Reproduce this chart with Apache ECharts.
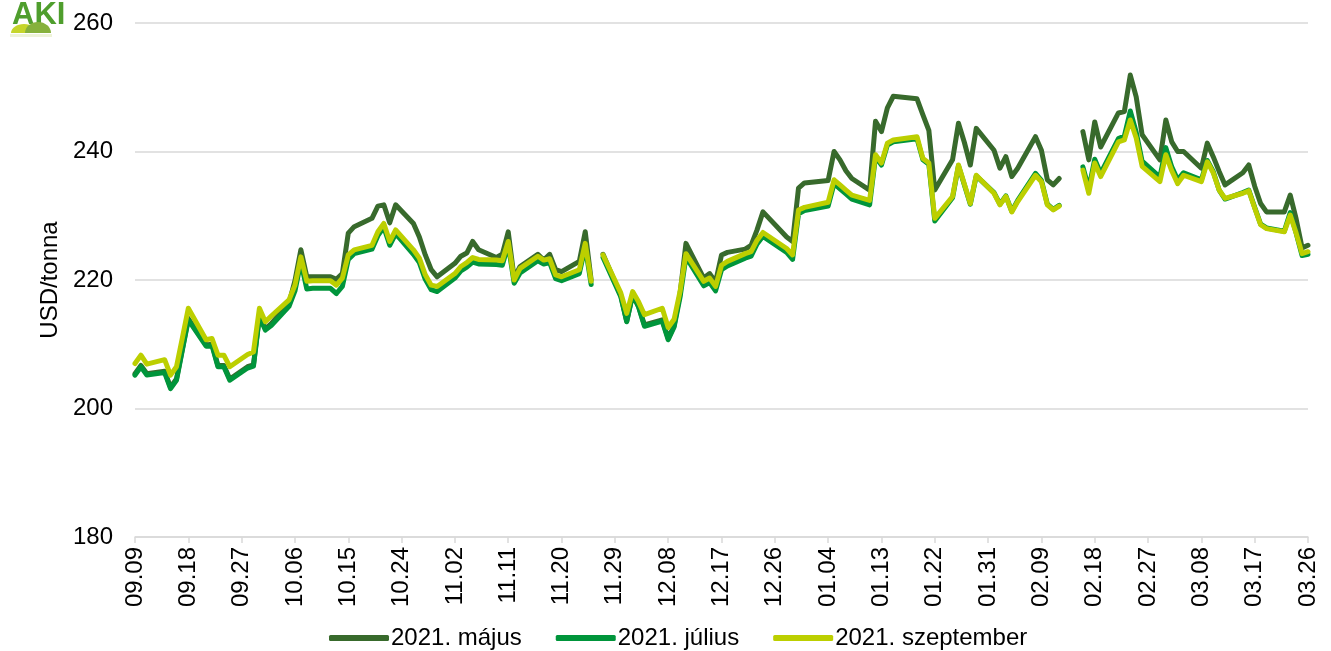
<!DOCTYPE html>
<html>
<head>
<meta charset="utf-8">
<script src="https://cdn.jsdelivr.net/npm/echarts@6/dist/echarts.min.js"></script>
<style>
html,body{margin:0;padding:0;background:#fff;}
#chart{width:1331px;height:651px;}
</style>
</head>
<body>
<div id="chart"></div>
<script>
// ---- data ----
const tradeDates = ['09.09','09.10','09.11','09.14','09.15','09.16','09.17','09.18','09.21','09.22','09.23','09.24','09.25','09.28','09.29','09.30',
'10.01','10.02','10.05','10.06','10.07','10.08','10.09','10.12','10.13','10.14','10.15','10.16','10.19','10.20','10.21','10.22','10.23','10.26','10.27','10.28','10.29','10.30',
'11.02','11.03','11.04','11.05','11.06','11.09','11.10','11.11','11.12','11.13','11.16','11.17','11.18','11.19','11.20','11.23','11.24','11.25','11.26','11.27','11.30',
'12.01','12.02','12.03','12.04','12.07','12.08','12.09','12.10','12.11','12.14','12.15','12.16','12.17','12.18','12.21','12.22','12.23','12.24','12.28','12.29','12.30','12.31',
'01.04','01.05','01.06','01.07','01.08','01.11','01.12','01.13','01.14','01.15','01.19','01.20','01.21','01.22','01.25','01.26','01.27','01.28','01.29',
'02.01','02.02','02.03','02.04','02.05','02.08','02.09','02.10','02.11','02.12','02.15','02.16','02.17','02.18','02.19','02.22','02.23','02.24','02.25','02.26',
'03.01','03.02','03.03','03.04','03.05','03.08','03.09','03.10','03.11','03.12','03.15','03.16','03.17','03.18','03.19','03.22','03.23','03.24','03.25','03.26'];

const mayValues = [205.4,206.7,205.4,205.8,203.3,204.6,209.3,214.0,209.9,210.0,206.7,206.7,204.6,206.5,206.8,214.5,
212.4,213.2,216.4,219.9,224.7,220.5,220.5,220.5,220.1,221.0,227.3,228.3,229.6,231.5,231.7,228.9,231.7,228.8,226.7,223.9,221.6,220.5,
222.6,223.7,224.2,226.0,224.7,223.5,224.0,227.5,220.3,222.1,224.0,223.1,224.0,221.6,221.3,222.9,227.5,220.0,null,224.0,217.6,
213.6,217.8,215.9,213.0,213.8,210.9,212.9,217.8,225.7,220.3,221.0,219.7,223.9,224.3,224.8,225.4,227.8,230.6,226.7,226.0,234.3,235.1,
235.5,240.0,238.7,237.0,235.8,234.0,244.7,243.1,246.8,248.6,248.2,245.7,243.3,234.0,238.7,244.4,241.4,237.9,243.6,
240.2,237.4,239.2,236.1,237.4,242.3,240.2,235.6,234.8,235.8,null,243.1,238.7,244.6,240.7,246.0,246.2,251.9,248.5,242.6,
238.7,244.9,241.5,240.0,240.0,237.4,241.3,239.2,236.9,234.8,236.7,237.9,234.6,231.9,230.6,230.6,233.2,229.5,225.0,225.4];

const julyValues = [205.2,206.5,205.2,205.6,203.1,204.4,209.1,213.8,209.7,209.8,206.5,206.5,204.4,206.3,206.6,214.3,
212.2,212.9,215.9,218.3,222.8,218.6,218.7,218.7,217.9,219.0,223.2,224.1,224.8,226.9,228.2,225.4,227.2,224.0,222.7,220.1,218.5,218.2,
220.3,221.4,222.0,222.8,222.5,222.4,222.3,225.5,219.5,221.1,223.0,222.5,222.7,220.2,219.9,221.0,225.2,219.3,null,223.5,217.4,
213.5,217.7,215.8,212.8,213.6,210.7,212.7,217.3,223.6,219.1,219.6,218.3,221.6,222.2,223.4,223.7,225.6,226.8,224.3,223.2,230.3,230.8,
231.5,235.0,234.2,233.4,232.6,231.7,239.2,237.9,241.0,241.5,242.0,238.7,238.0,229.2,232.8,237.8,234.8,231.8,236.2,
233.6,231.8,233.1,230.7,232.4,236.6,235.5,231.8,231.0,231.6,null,237.6,234.2,238.8,236.6,242.0,242.4,246.3,243.0,238.5,
236.0,240.6,237.6,235.6,236.7,235.6,238.6,236.9,234.0,232.6,233.6,234.0,231.3,228.7,228.1,227.6,230.5,227.3,223.8,224.0];

const septValues = [207.0,208.3,206.9,207.6,205.2,206.5,211.0,215.6,210.7,210.9,208.3,208.3,206.5,208.4,208.8,215.6,
213.5,214.4,216.9,219.2,223.6,219.8,219.9,219.9,219.2,220.3,223.9,224.7,225.4,227.5,228.8,226.0,227.8,224.7,223.4,220.8,219.2,219.0,
221.0,222.1,222.7,223.5,223.2,223.1,223.0,226.0,220.0,221.8,223.7,223.1,223.3,220.8,220.5,221.6,225.7,219.8,null,223.9,218.0,
214.8,218.2,216.6,214.6,215.6,212.6,213.9,218.2,224.1,219.8,220.3,219.0,222.3,222.9,224.1,224.4,226.2,227.4,224.9,223.9,230.9,231.3,
232.1,235.6,234.8,234.0,233.2,232.4,239.5,238.2,241.3,241.8,242.3,238.9,238.2,229.6,233.0,237.9,234.9,231.9,236.3,
233.5,231.7,233.0,230.6,232.2,236.3,235.3,231.7,230.9,231.5,null,237.1,233.5,238.2,236.1,241.5,241.8,244.9,242.1,237.7,
235.3,239.5,237.0,235.0,236.3,235.3,238.4,236.7,234.0,232.7,233.5,233.9,231.2,228.6,228.0,227.5,230.1,227.3,224.1,224.4];

const seriesNames = ['2021. május','2021. július','2021. szeptember'];
const yTicks = [180, 200, 220, 240, 260];

// calendar-day categories (axis domain)
const dayCategories = [];
(function(){
  let d = new Date(Date.UTC(2020, 8, 9));
  const end = new Date(Date.UTC(2021, 2, 26));
  while (d <= end) {
    const mm = String(d.getUTCMonth() + 1).padStart(2, '0');
    const dd = String(d.getUTCDate()).padStart(2, '0');
    dayCategories.push(mm + '.' + dd);
    d = new Date(d.getTime() + 86400000);
  }
})();

function toPairs(vals) {
  return tradeDates.map((d, i) => [dayCategories.indexOf(d), vals[i] == null ? null : vals[i]]);
}

const colors = ['#386a2c', '#00953b', '#bccf00'];
const FONT = 'Liberation Sans, Arial, sans-serif';
const FS = 24;

const chart = echarts.init(document.getElementById('chart'), null, {renderer: 'canvas'});
chart.setOption({
  animation: false,
  backgroundColor: '#fff',
  textStyle: {fontFamily: FONT},
  grid: {left: 135, right: 23, top: 23, bottom: 114, containLabel: false},
  legend: {
    data: seriesNames,
    left: 324, bottom: -4,
    icon: 'roundRect',
    itemWidth: 60, itemHeight: 6,
    itemGap: 34,
    textStyle: {fontSize: FS, color: '#000', fontFamily: FONT, padding: [0, 0, 0, -3]}
  },
  xAxis: {
    type: 'category',
    data: dayCategories,
    boundaryGap: false,
    axisLine: {lineStyle: {color: '#d9d9d9', width: 1.5}},
    axisTick: {show: true, interval: 8, length: 6, lineStyle: {color: '#d9d9d9', width: 1.5}},
    axisLabel: {interval: 8, rotate: 90, fontSize: FS, color: '#000', margin: 10, fontFamily: FONT},
    splitLine: {show: false}
  },
  yAxis: {
    type: 'value',
    min: yTicks[0], max: yTicks[yTicks.length - 1], interval: 20,
    name: 'USD/tonna',
    nameLocation: 'middle',
    nameGap: 71,
    nameTextStyle: {fontSize: FS, color: '#000', fontFamily: FONT},
    axisLine: {show: false},
    axisTick: {show: false},
    axisLabel: {fontSize: FS, color: '#000', margin: 22, fontFamily: FONT},
    splitLine: {lineStyle: {color: '#d9d9d9', width: 1.5}}
  },
  series: [
    {name: seriesNames[0], type: 'line', data: toPairs(mayValues), color: colors[0], showSymbol: false, symbol: 'none',
     connectNulls: false, lineStyle: {width: 5, join: 'round', cap: 'round'}},
    {name: seriesNames[1], type: 'line', data: toPairs(julyValues), color: colors[1], showSymbol: false, symbol: 'none',
     connectNulls: false, lineStyle: {width: 5, join: 'round', cap: 'round'}},
    {name: seriesNames[2], type: 'line', data: toPairs(septValues), color: colors[2], showSymbol: false, symbol: 'none',
     connectNulls: false, lineStyle: {width: 5, join: 'round', cap: 'round'}}
  ],
  graphic: [
    {type: 'text', left: 12, top: 0, style: {text: 'AKI', fill: '#4f9e2d', font: 'bold 31px ' + FONT}},
    {type: 'ellipse', shape: {cx: 24, cy: 33, rx: 13, ry: 9}, style: {fill: '#c5d52b'}},
    {type: 'ellipse', shape: {cx: 38, cy: 33, rx: 13, ry: 11}, style: {fill: '#86b13c'}},
    {type: 'rect', shape: {x: 6, y: 33, width: 56, height: 14}, style: {fill: '#fff'}},
    {type: 'rect', shape: {x: 10, y: 34, width: 42, height: 3}, style: {fill: '#eef3d8'}}
  ]
});
</script>
</body>
</html>
